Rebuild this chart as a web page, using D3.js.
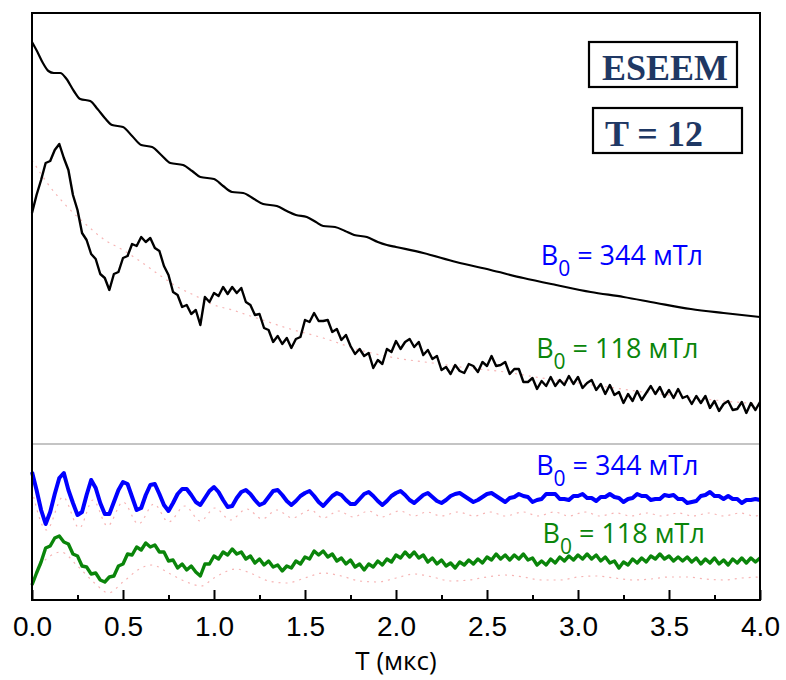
<!DOCTYPE html>
<html><head><meta charset="utf-8">
<script src="https://cdn.jsdelivr.net/npm/d3@7"></script>
<style>body{margin:0;background:#fff}svg{display:block}</style>
</head><body>
<svg id="chart" width="786" height="680"></svg>
<script>
// time axis (µs)
const xTicks = [0,0.5,1.0,1.5,2.0,2.5,3.0,3.5,4.0];
const xTickLabels = ["0.0","0.5","1.0","1.5","2.0","2.5","3.0","3.5","4.0"];
const xMinorTicks = [0.25,0.75,1.25,1.75,2.25,2.75,3.25,3.75];
const xLabel = "T (мкс)";
const dt = 0.025; // sampling step of dense series

// Upper panel: ESEEM echo decay, B0 = 344 mT (smooth) — [t, amplitude a.u.]
const decay344 = [[0,558],[0.03,548],[0.06,537],[0.09,529],[0.12,527],[0.155,527],[0.19,521],[0.23,509],[0.265,501],[0.32,499],[0.36,491],[0.4,482],[0.44,475],[0.5,473],[0.55,464],[0.6,455],[0.66,453],[0.71,445],[0.76,437],[0.83,435],[0.88,429],[0.925,423],[1.0,421],[1.05,414],[1.1,408],[1.16,407],[1.22,401],[1.27,396],[1.345,394],[1.4,389],[1.45,385],[1.51,383],[1.56,378],[1.6,374],[1.665,373],[1.72,369],[1.77,365],[1.84,363],[1.9,358],[1.95,355],[2.0,353],[2.15,347],[2.33,338],[2.52,330],[2.7,322],[2.88,315],[3.07,308],[3.25,303],[3.43,297],[3.62,291],[3.8,287],[4.0,283]];

// Upper panel: echo decay, B0 = 118 mT (noisy), sampled every dt
const decay118 = [387,405,420,437,439,450,456,442,430,405, 390,367,360,346,341,326,322,310,326,328, 342,344,356,354,363,358,362,352,349,334, 325,308,305,293,295,286,290,275,303,298, 307,304,313,306,313,307,312,298,295,285, 286,272,270,258,264,256,262,252,261,263, 280,278,287,279,279,280,268,271,260,265, 254,246,251,244,247,232,240,236,251,248, 259,251,258,261,253,258,245,250,241,244, 230,233,226,235,229,227,236,234,228,238, 234,244,234,235,238,226,231,231,218,218, 222,211,219,214,223,214,220,215,224,216, 223,212,217,220,210,216,206,215,205,208, 197,206,199,209,200,207,214,206,213,203, 210,202,211,202,204,196,204,197,204,192, 199,189,196,199,190,191,198,187,197,190, 198];
const decay118Fit = [[0,440],[0.1,413],[0.2,392],[0.3,375],[0.4,360],[0.5,350],[0.6,338],[0.7,325],[0.8,313],[0.9,304],[1.0,295],[1.1,290],[1.2,284],[1.3,278],[1.4,272],[1.5,267],[1.6,262],[1.8,250],[2.0,242],[2.2,237],[2.4,232],[2.6,228],[2.8,222],[3.0,217],[3.2,212],[3.4,207],[3.6,203],[3.8,199],[4.0,196]];

// Lower panel: normalised modulation, B0 = 344 mT, sampled every dt
const mod344 = [128,110,90,76,88,106,122,127,110,97,85,88,105,120,112,97,86,86,98,110,118,116,103,90,92,105,115,116,106,95,89,97,106,111,111,105,98,95,102,109,113,108,100,93,94,102,108,110,106,100,95,97,103,109,110,105,99,95,99,104,107,109,104,98,94,99,104,107,105,100,96,96,101,106,108,104,99,95,99,104,107,109,105,100,97,101,105,107,103,99,97,100,104,106,107,104,101,98,100,103,106,107,104,101,98,102,103,106,104,103,98,100,101,106,106,106,101,101,100,104,104,106,102,102,99,103,103,106,103,102,98,101,102,106,104,104,100,101,101,105,104,105,101,101,97,98,99,104,105,108,104,104,101,104,101,101,97,100,100,101,100];
const mod344Fit = [[0,110],[0.08,70],[0.17,103],[0.26,72],[0.335,100],[0.415,74],[0.5,98],[0.585,76],[0.67,96],[0.75,78],[0.84,94],[0.925,79],[1.005,92],[1.09,80],[1.18,91],[1.265,81],[1.345,90],[1.43,82],[1.53,90],[1.6,82],[1.685,89],[1.765,83],[1.85,89],[1.92,83],[2.02,89],[2.1,84],[2.17,88],[2.25,84],[2.34,88],[2.43,84],[2.52,88],[2.6,84],[2.7,88],[2.78,84],[2.87,88],[2.95,84],[3.04,88],[3.12,84],[3.21,87],[3.29,84],[3.38,87],[3.46,84],[3.55,87],[3.63,84],[3.72,87],[3.8,84],[3.89,87],[3.97,84],[4.0,85]];

// Lower panel: normalised modulation, B0 = 118 mT, sampled every dt
const mod118 = [15,27,38,52,54,62,64,58,56,46,44,34,33,26,27,20,18,23,24,34,36,46,45,53,50,57,53,55,48,48,39,40,32,36,30,34,28,24,36,36,44,41,48,45,51,46,48,41,44,37,41,35,39,33,35,29,34,32,39,36,43,41,49,45,49,43,46,39,42,36,40,33,36,30,36,33,39,35,41,38,45,42,48,43,48,42,45,38,42,36,40,34,37,32,38,35,40,36,41,37,43,40,46,41,45,40,45,41,46,40,42,35,39,35,41,37,43,39,44,40,45,41,46,41,45,39,43,37,39,32,38,35,41,37,42,38,44,41,46,41,44,39,43,39,43,38,42,36,41,37,42,36,40,35,41,37,42,37,42,38,42];
const mod118Fit = [[0,15],[0.05,35],[0.1,44],[0.16,48],[0.25,34],[0.35,16],[0.42,7],[0.5,18],[0.6,32],[0.66,35],[0.75,27],[0.85,18],[0.93,14],[1.0,22],[1.12,31],[1.2,27],[1.3,19],[1.4,17],[1.5,22],[1.6,27],[1.7,24],[1.8,19],[1.9,18],[2.0,22],[2.1,26],[2.2,23],[2.3,19],[2.4,20],[2.5,23],[2.6,25],[2.7,23],[2.8,20],[2.9,20],[3.0,23],[3.1,24],[3.2,22],[3.3,20],[3.4,21],[3.5,23],[3.6,23],[3.7,21],[3.8,20],[3.9,22],[4.0,23]];

// annotations
const labels344 = {base: "B", sub: "0", rest: " = 344 мТл"};
const labels118 = {base: "B", sub: "0", rest: " = 118 мТл"};
const boxTexts = ["ESEEM", "T = 12"];

const svg = d3.select("#chart");
const W = 786, H = 680;
const m = {left: 32, right: 26, top: 13, bottom: 80};
const x = d3.scaleLinear().domain([0, 4]).range([m.left, W - m.right]);
const y = d3.scaleLinear().domain([0, 587]).range([H - m.bottom, m.top]);
const dividerY = 156; // amplitude level of the panel divider

const toPts = arr => arr.map((v, i) => [i * dt, v]);
const line = d3.line().x(d => x(d[0])).y(d => y(d[1]));
const smooth = d3.line().curve(d3.curveMonotoneX).x(d => x(d[0])).y(d => y(d[1]));

const g = svg.append("g");
// divider
g.append("line").attr("x1", x(0)).attr("x2", x(4)).attr("y1", y(dividerY)).attr("y2", y(dividerY))
  .attr("stroke", "#c4c4c4").attr("stroke-width", 2.2);

// fits (pink dotted)
const fitStyle = sel => sel.attr("fill", "none").attr("stroke", "#f6b4b4").attr("stroke-width", 1.2).attr("stroke-dasharray", "2,5");
[decay118Fit, mod344Fit, mod118Fit].forEach(f => g.append("path").datum(f).attr("d", smooth).call(fitStyle));

// data lines
g.append("path").datum(decay344).attr("d", smooth)
  .attr("fill", "none").attr("stroke", "#000").attr("stroke-width", 2.2);
g.append("path").datum(toPts(decay118)).attr("d", line)
  .attr("fill", "none").attr("stroke", "#000").attr("stroke-width", 2.4).attr("stroke-linejoin", "round");
g.append("path").datum(toPts(mod344)).attr("d", line)
  .attr("fill", "none").attr("stroke", "#0000ff").attr("stroke-width", 4).attr("stroke-linejoin", "round");
g.append("path").datum(toPts(mod118)).attr("d", line)
  .attr("fill", "none").attr("stroke", "#0a850a").attr("stroke-width", 3.4).attr("stroke-linejoin", "round");

// frame
svg.append("rect").attr("x", x(0)).attr("y", y(587)).attr("width", x(4) - x(0)).attr("height", y(0) - y(587))
  .attr("fill", "none").attr("stroke", "#000").attr("stroke-width", 2);

// x axis with inward ticks
const axis = d3.axisBottom(x).tickValues(xTicks).tickFormat((d, i) => xTickLabels[i]).tickSizeInner(-10).tickSizeOuter(0).tickPadding(16);
const ax = svg.append("g").attr("transform", `translate(0,${y(0)})`).call(axis);
ax.select(".domain").remove();
ax.selectAll(".tick line").attr("stroke", "#000").attr("stroke-width", 2);
ax.selectAll(".tick text").attr("font-family", "Liberation Sans, Arial, sans-serif").attr("font-size", 28).attr("fill", "#000");
const minor = d3.axisBottom(x).tickValues(xMinorTicks).tickFormat("").tickSizeInner(-5).tickSizeOuter(0);
const axm = svg.append("g").attr("transform", `translate(0,${y(0)})`).call(minor);
axm.select(".domain").remove();
axm.selectAll(".tick line").attr("stroke", "#000").attr("stroke-width", 2);

svg.append("text").attr("x", 396).attr("y", 670).attr("text-anchor", "middle")
  .attr("font-family", "Open Sans, sans-serif").attr("font-size", 26).attr("fill", "#000").text(xLabel);

// series labels
function bLabel(lbl, tx, vy, color) {
  const t = svg.append("text").attr("x", x(tx)).attr("y", y(vy)).attr("font-family", "Open Sans, sans-serif")
    .attr("font-size", 27).attr("fill", color);
  t.append("tspan").text(lbl.base);
  t.append("tspan").attr("font-size", 21).attr("dy", 11).text(lbl.sub);
  t.append("tspan").attr("dy", -11).text(lbl.rest);
}
bLabel(labels344, 2.795, 335, "#0000ff");
bLabel(labels118, 2.77, 242, "#0a850a");
bLabel(labels344, 2.77, 125, "#0000ff");
bLabel(labels118, 2.805, 57, "#0a850a");

// boxed annotations
const boxes = [{x0: 589, y0: 42, x1: 737, y1: 87, ty: 80}, {x0: 593, y0: 108, x1: 742, y1: 153, ty: 146}];
boxes.forEach((b, i) => {
  svg.append("rect").attr("x", b.x0).attr("y", b.y0).attr("width", b.x1 - b.x0).attr("height", b.y1 - b.y0)
    .attr("fill", "#fff").attr("stroke", "#000").attr("stroke-width", 2.2);
  svg.append("text").attr("x", i === 0 ? (b.x0 + b.x1) / 2 + 2 : b.x0 + 12).attr("y", b.ty)
    .attr("text-anchor", i === 0 ? "middle" : "start")
    .attr("font-family", "Liberation Serif, Times New Roman, serif").attr("font-weight", "bold")
    .attr("font-size", 36).attr("fill", "#1f3864").text(boxTexts[i]);
});
</script>
</body></html>
